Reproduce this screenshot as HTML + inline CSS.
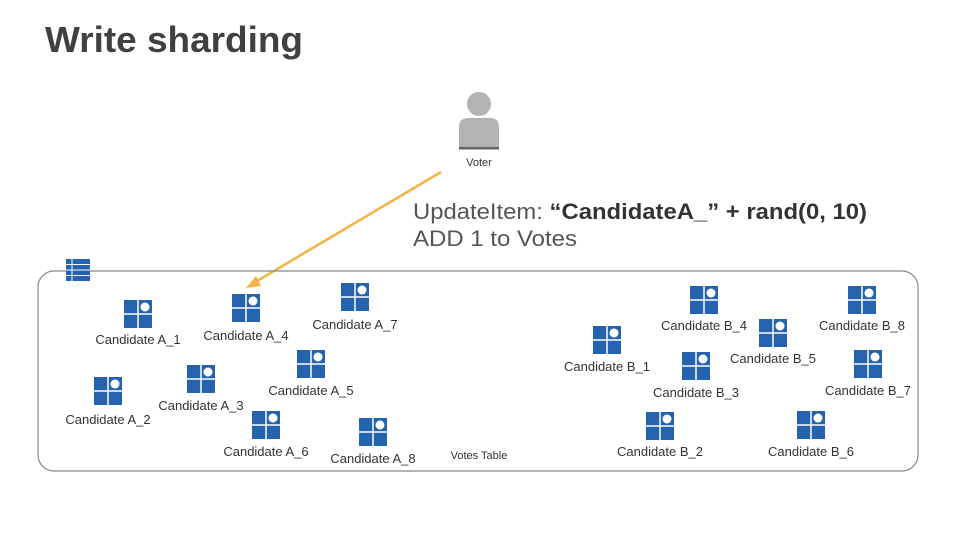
<!DOCTYPE html>
<html><head><meta charset="utf-8"><style>
html,body{margin:0;padding:0;background:#fff;}
svg{display:block;font-family:"Liberation Sans",Arial,sans-serif;}
.l{font-size:13px;fill:#333;text-anchor:middle;}
</style></head><body>
<svg width="960" height="540" viewBox="0 0 960 540" xmlns="http://www.w3.org/2000/svg">
<defs>
<g id="ic">
<rect x="-14" y="0" width="28" height="28" fill="#2563ae"/>
<line x1="-14" y1="14" x2="14" y2="14" stroke="#fff" stroke-width="1.5"/>
<line x1="0" y1="0" x2="0" y2="28" stroke="#fff" stroke-width="1.5"/>
<circle cx="7" cy="7" r="4.5" fill="#fff"/>
</g>
</defs>
<text x="45" y="52" font-size="36" font-weight="bold" fill="#404040" textLength="258" lengthAdjust="spacingAndGlyphs">Write sharding</text>
<!-- voter -->
<circle cx="479" cy="104" r="12" fill="#b3b3b3"/>
<path d="M459 150 L459 127 Q459 118 468 118 L490 118 Q499 118 499 127 L499 150 Z" fill="#b3b3b3"/>
<rect x="459" y="147" width="40" height="2" fill="#666"/>
<text x="479" y="166" font-size="11" fill="#333" text-anchor="middle">Voter</text>
<!-- arrow -->
<line x1="441" y1="172" x2="252" y2="284" stroke="#f5b342" stroke-width="2.5"/>
<path d="M246 288 L256 276 L261 286 Z" fill="#f5b342"/>
<text x="413" y="219" font-size="22" fill="#555" textLength="454" lengthAdjust="spacingAndGlyphs">UpdateItem: <tspan font-weight="bold" fill="#333">“CandidateA_” + rand(0, 10)</tspan></text>
<text x="413" y="246" font-size="22" fill="#555" textLength="164" lengthAdjust="spacingAndGlyphs">ADD 1 to Votes</text>
<!-- container -->
<rect x="38" y="271" width="880" height="200" rx="16" fill="none" stroke="#888" stroke-width="1.2"/>
<rect x="66" y="259" width="24" height="22" fill="#2563ae"/>
<line x1="66" y1="264.5" x2="90" y2="264.5" stroke="#fff"/>
<line x1="66" y1="270" x2="90" y2="270" stroke="#fff"/>
<line x1="66" y1="275.5" x2="90" y2="275.5" stroke="#fff"/>
<line x1="72" y1="259" x2="72" y2="281" stroke="#fff"/>
<use href="#ic" x="138" y="300"/><text class="l" x="138" y="344">Candidate A_1</text>
<use href="#ic" x="246" y="294"/><text class="l" x="246" y="340">Candidate A_4</text>
<use href="#ic" x="355" y="283"/><text class="l" x="355" y="329">Candidate A_7</text>
<use href="#ic" x="311" y="350"/><text class="l" x="311" y="395">Candidate A_5</text>
<use href="#ic" x="201" y="365"/><text class="l" x="201" y="410">Candidate A_3</text>
<use href="#ic" x="108" y="377"/><text class="l" x="108" y="424">Candidate A_2</text>
<use href="#ic" x="266" y="411"/><text class="l" x="266" y="456">Candidate A_6</text>
<use href="#ic" x="373" y="418"/><text class="l" x="373" y="463">Candidate A_8</text>
<text class="l" x="479" y="459" style="font-size:11px">Votes Table</text>
<use href="#ic" x="607" y="326"/><text class="l" x="607" y="371">Candidate B_1</text>
<use href="#ic" x="704" y="286"/><text class="l" x="704" y="330">Candidate B_4</text>
<use href="#ic" x="773" y="319"/><text class="l" x="773" y="363">Candidate B_5</text>
<use href="#ic" x="862" y="286"/><text class="l" x="862" y="330">Candidate B_8</text>
<use href="#ic" x="696" y="352"/><text class="l" x="696" y="397">Candidate B_3</text>
<use href="#ic" x="868" y="350"/><text class="l" x="868" y="395">Candidate B_7</text>
<use href="#ic" x="660" y="412"/><text class="l" x="660" y="456">Candidate B_2</text>
<use href="#ic" x="811" y="411"/><text class="l" x="811" y="456">Candidate B_6</text>
</svg>
</body></html>
